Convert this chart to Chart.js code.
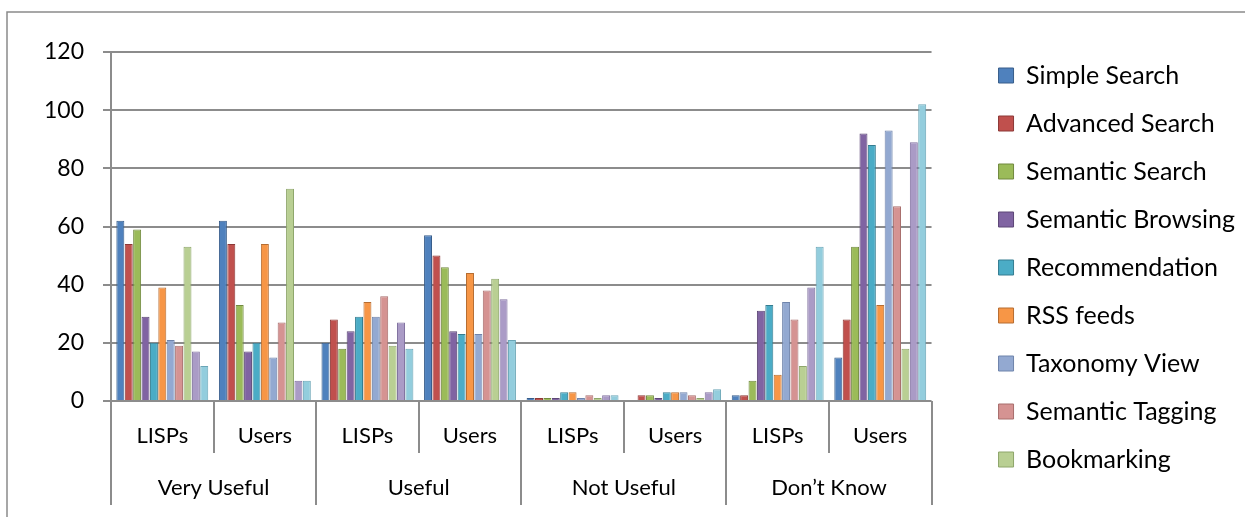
<!DOCTYPE html>
<html>
<head>
<meta charset="utf-8">
<script src="https://cdn.jsdelivr.net/npm/chart.js@4"></script>
<style>
  html, body { margin: 0; padding: 0; background: #fff; }
  #wrap { width: 1245px; height: 517px; position: relative; }
</style>
</head>
<body>
<div id="wrap"><canvas id="chart" width="1245" height="517"></canvas></div>
<script>
// ===== DATA =====
const subLabels = ['LISPs', 'Users', 'LISPs', 'Users', 'LISPs', 'Users', 'LISPs', 'Users'];
const groupLabels = ['Very Useful', 'Useful', 'Not Useful', 'Don\u2019t Know'];
const yTicks = [0, 20, 40, 60, 80, 100, 120];

const seriesNames = ['Simple Search', 'Advanced Search', 'Semantic Search', 'Semantic Browsing',
  'Recommendation', 'RSS feeds', 'Taxonomy View', 'Semantic Tagging', 'Bookmarking',
  'Series 10', 'Series 11'];

const simpleSearch     = [62, 62, 20, 57, 1, 0, 2, 15];
const advancedSearch   = [54, 54, 28, 50, 1, 2, 2, 28];
const semanticSearch   = [59, 33, 18, 46, 1, 2, 7, 53];
const semanticBrowsing = [29, 17, 24, 24, 1, 1, 31, 92];
const recommendation   = [20, 20, 29, 23, 3, 3, 33, 88];
const rssFeeds         = [39, 54, 34, 44, 3, 3, 9, 33];
const taxonomyView     = [21, 15, 29, 23, 1, 3, 34, 93];
const semanticTagging  = [19, 27, 36, 38, 2, 2, 28, 67];
const bookmarking      = [53, 73, 19, 42, 1, 1, 12, 18];
const series10         = [17, 7, 27, 35, 2, 3, 39, 89];
const series11         = [12, 7, 18, 21, 2, 4, 53, 102];

const allValues = [simpleSearch, advancedSearch, semanticSearch, semanticBrowsing, recommendation,
  rssFeeds, taxonomyView, semanticTagging, bookmarking, series10, series11];

const fillColors = ['#4F81BD', '#C0504D', '#9BBB59', '#8064A2', '#4BACC6', '#F79646',
  '#93A9D1', '#D59392', '#B9CF93', '#AA9BC6', '#93CDDD'];
const edgeColors = ['#385D8A', '#8C3836', '#71893F', '#5C4776', '#357D91', '#B66D31',
  '#6F84AB', '#A86E6D', '#8EA66B', '#8172A0', '#6AA5B6'];

const FONT = 'Lato, "Open Sans", sans-serif';

// ===== EXTRA LINES (frame + category dividers) =====
const dividerPlugin = {
  id: 'dividers',
  beforeDraw(chart) {
    const c = chart.ctx;
    c.save();
    c.strokeStyle = '#8a8a8a';
    c.lineWidth = 1.5;
    c.beginPath();
    c.moveTo(7, 517);
    c.lineTo(7, 12);
    c.lineTo(1245, 12);
    c.stroke();
    c.restore();
  },
  afterDraw(chart) {
    const c = chart.ctx;
    const area = chart.chartArea;
    const step = (area.right - area.left) / subLabels.length;
    c.save();
    c.strokeStyle = '#8c8c8c';
    c.lineWidth = 2;
    for (let i = 0; i <= subLabels.length; i++) {
      let x = Math.round(area.left + i * step);
      let end = (i % 2 === 0) ? 505 : 453;
      c.beginPath();
      c.moveTo(x, area.bottom);
      c.lineTo(x, end);
      c.stroke();
    }
    c.restore();
  }
};

// ===== BUILD DATASETS =====
let datasets = allValues.map((vals, i) => ({
  label: seriesNames[i],
  data: vals,
  backgroundColor: fillColors[i],
  borderColor: edgeColors[i],
  borderWidth: 1,
  categoryPercentage: 0.9,
  barPercentage: 0.95
}));

// ===== INIT CHART =====
new Chart(document.getElementById('chart'), {
  type: 'bar',
  data: { labels: subLabels, datasets: datasets },
  plugins: [dividerPlugin],
  options: {
    responsive: false,
    animation: false,
    layout: { padding: { top: 40, left: 25, right: 0, bottom: 14 } },
    plugins: {
      title: { display: true, text: '', font: { size: 1, lineHeight: 1 }, padding: { top: 0, bottom: 11 } },
      tooltip: { enabled: false },
      legend: {
        position: 'right',
        align: 'start',
        maxWidth: 400,
        labels: {
          boxWidth: 15,
          boxHeight: 15,
          padding: 23,
          color: '#000',
          font: { family: FONT, size: 25 },
          filter: item => item.datasetIndex < 9
        }
      }
    },
    scales: {
      x: {
        grid: { display: false, drawTicks: false, tickLength: 0 },
        border: { display: false },
        ticks: { color: '#000', padding: 21, maxRotation: 0, minRotation: 0, autoSkip: false,
          font: { family: FONT, size: 22, lineHeight: 1.25 } },
        afterFit: axis => { axis.height = 52; }
      },
      x2: {
        type: 'category',
        position: 'bottom',
        labels: groupLabels,
        offset: true,
        grid: { display: false, drawTicks: false, tickLength: 0 },
        border: { display: false },
        ticks: { color: '#000', padding: 21, maxRotation: 0, minRotation: 0, autoSkip: false,
          font: { family: FONT, size: 22, lineHeight: 1.25 } },
        afterFit: axis => { axis.height = 50; }
      },
      y: {
        min: 0,
        max: 120,
        afterBuildTicks: axis => { axis.ticks = yTicks.map(v => ({ value: v })); },
        grid: { color: '#8c8c8c', lineWidth: 2, tickLength: 8 },
        border: { color: '#8c8c8c', width: 2 },
        ticks: { color: '#000', padding: 19, font: { family: FONT, size: 23 } }
      },
      yGap: {
        position: 'right',
        grid: { display: false, drawTicks: false, tickLength: 0 },
        border: { display: false },
        ticks: { display: false },
        afterFit: axis => { axis.width = 44; }
      }
    }
  }
});
</script>
</body>
</html>
